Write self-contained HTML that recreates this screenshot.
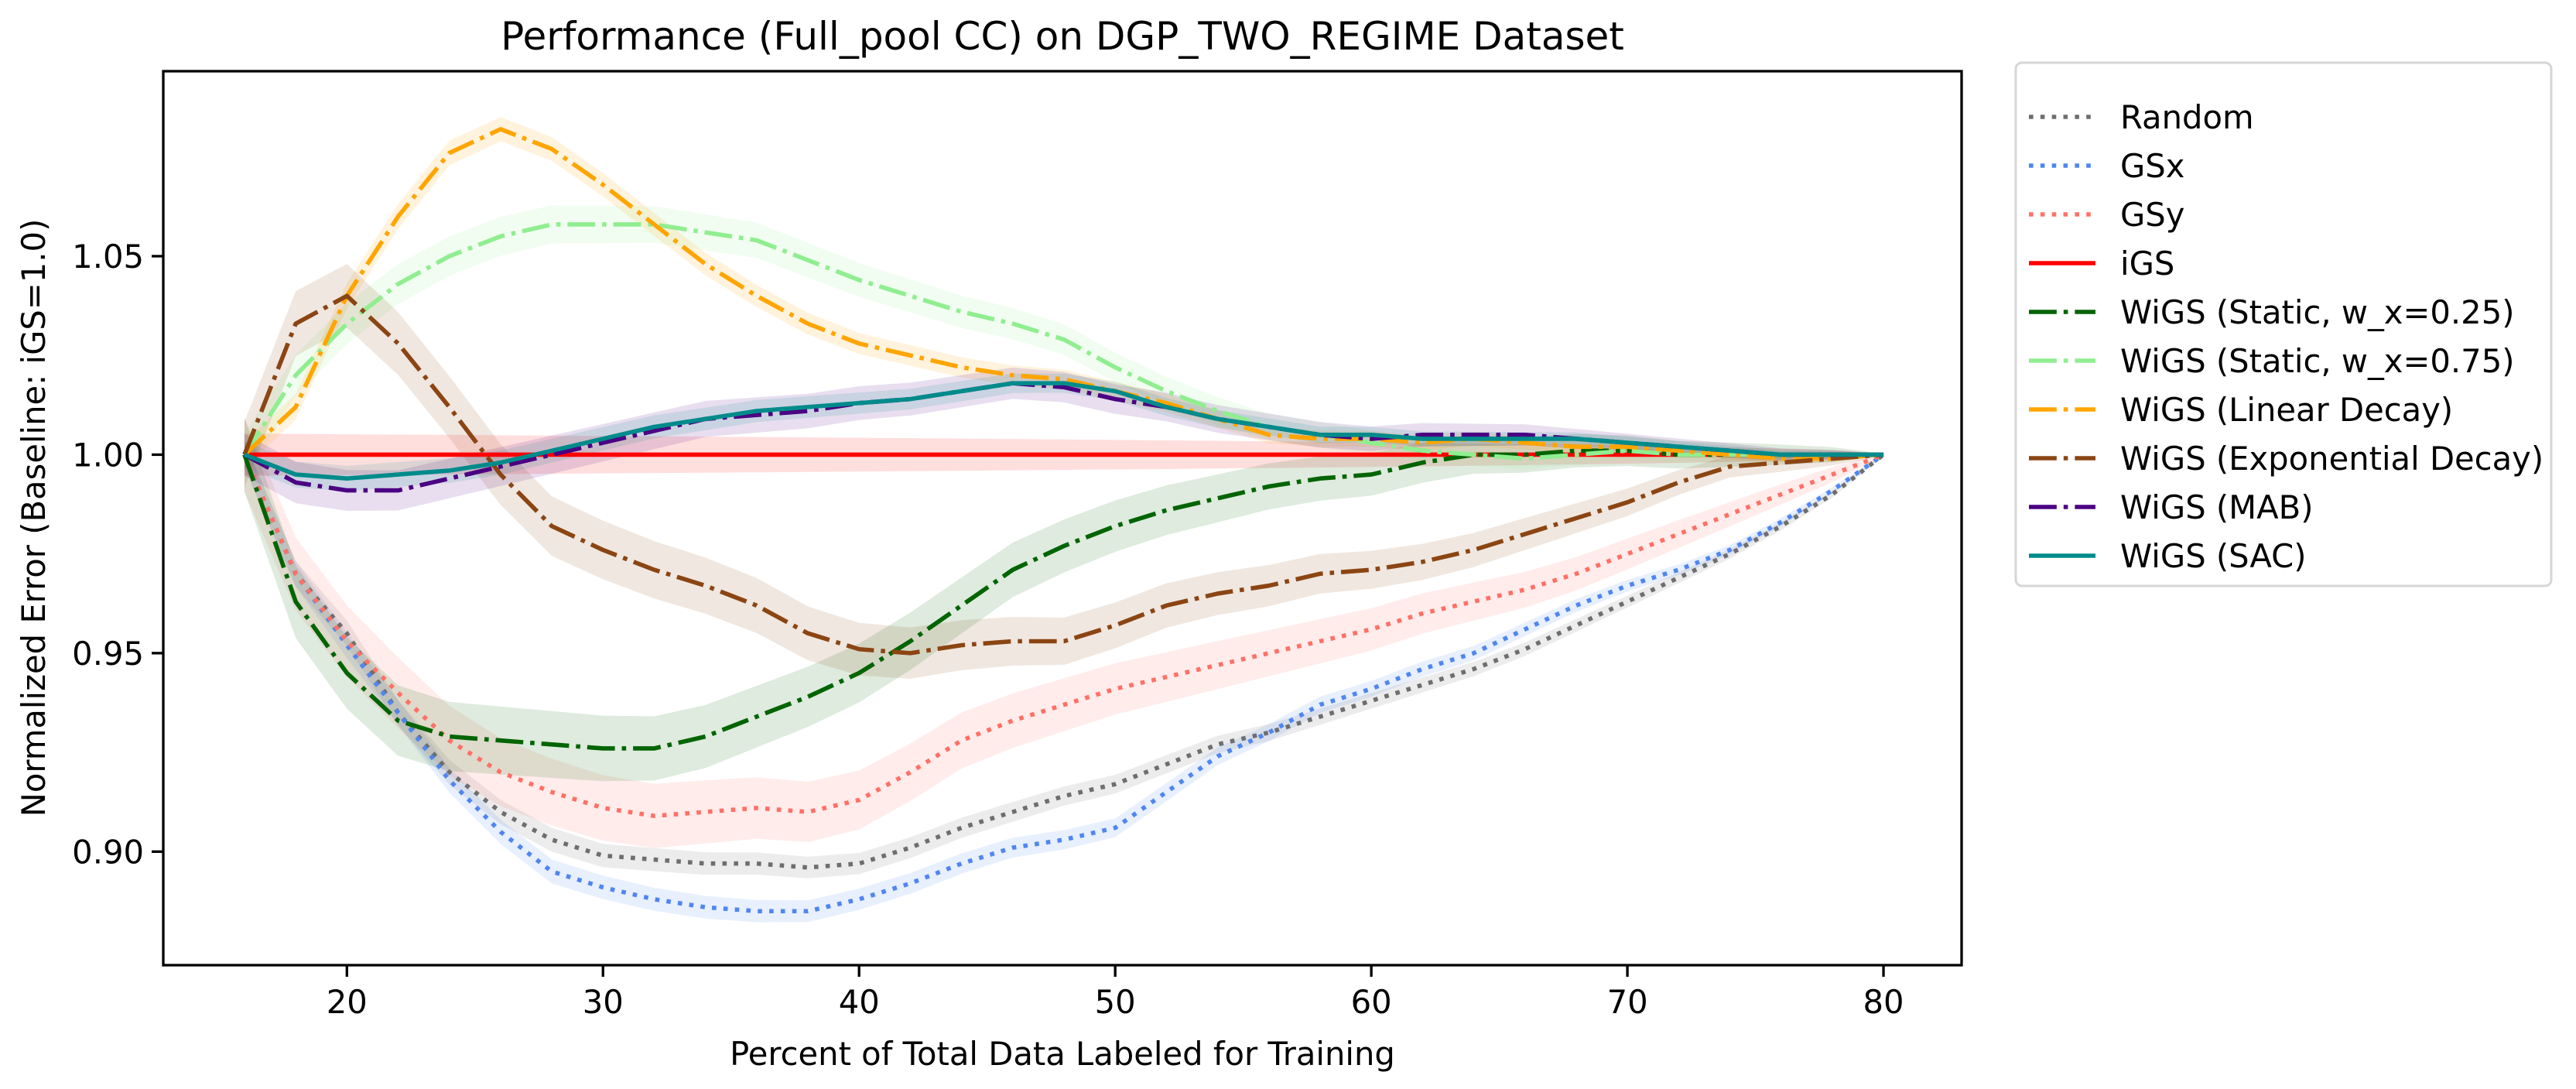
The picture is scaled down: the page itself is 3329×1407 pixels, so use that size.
<!DOCTYPE html>
<html><head><meta charset="utf-8"><style>
body{margin:0;background:#fff;}
svg{display:block;font-family:"DejaVu Sans","Liberation Sans",sans-serif;}
</style></head><body>
<svg id="chart" width="3329" height="1407" viewBox="0 0 3329 1407" xmlns="http://www.w3.org/2000/svg">
<rect width="3329" height="1407" fill="#fff"/>
<text x="1373" y="64" font-size="50" text-anchor="middle">Performance (Full_pool CC) on DGP_TWO_REGIME Dataset</text>
<g id="bands"></g><g id="lines"></g>
<rect x="211" y="92" width="2324" height="1155" fill="none" stroke="#000" stroke-width="3.3"/>
<g id="ticks"></g>
<text x="1373" y="1376" font-size="41.7" text-anchor="middle">Percent of Total Data Labeled for Training</text>
<text x="0" y="0" font-size="41.7" text-anchor="middle" transform="translate(58,669) rotate(-90)">Normalized Error (Baseline: iGS=1.0)</text>
<g id="legend"></g>
</svg>
<script>
const xs=[16,18,20,22,24,26,28,30,32,34,36,38,40,42,44,46,48,50,52,54,56,58,60,62,64,66,68,70,72,74,76,78,80];
const seriesNames=["Random","GSx","GSy","iGS","WiGS (Static, w_x=0.25)","WiGS (Static, w_x=0.75)","WiGS (Linear Decay)","WiGS (Exponential Decay)","WiGS (MAB)","WiGS (SAC)"];
const randomVals=[1,0.97,0.955,0.935,0.92,0.91,0.903,0.899,0.898,0.897,0.897,0.896,0.897,0.901,0.906,0.91,0.914,0.917,0.922,0.927,0.93,0.934,0.938,0.942,0.946,0.951,0.957,0.963,0.969,0.975,0.982,0.99,1];
const gsxVals=[1,0.97,0.952,0.935,0.918,0.905,0.895,0.891,0.888,0.886,0.885,0.885,0.888,0.892,0.897,0.901,0.903,0.906,0.915,0.924,0.93,0.937,0.941,0.946,0.95,0.956,0.962,0.967,0.971,0.976,0.983,0.991,1];
const gsyVals=[1,0.97,0.953,0.94,0.928,0.92,0.915,0.911,0.909,0.91,0.911,0.91,0.913,0.92,0.928,0.933,0.937,0.941,0.944,0.947,0.95,0.953,0.956,0.96,0.963,0.966,0.97,0.975,0.98,0.985,0.99,0.995,1];
const igsVals=xs.map(()=>1.0);
const static25Vals=[1,0.963,0.945,0.933,0.929,0.928,0.927,0.926,0.926,0.929,0.934,0.939,0.945,0.953,0.962,0.971,0.977,0.982,0.986,0.989,0.992,0.994,0.995,0.998,1.0,1.0,1.001,1.001,1.0,1.0,1.0,1.0,1];
const static75Vals=[1,1.02,1.033,1.043,1.05,1.055,1.058,1.058,1.058,1.056,1.054,1.049,1.044,1.04,1.036,1.033,1.029,1.022,1.016,1.011,1.007,1.005,1.003,1.001,1.0,0.999,1.0,1.001,1.0,1.0,1.0,1.0,1];
const linearVals=[1,1.012,1.04,1.06,1.076,1.082,1.077,1.068,1.058,1.048,1.04,1.033,1.028,1.025,1.022,1.02,1.019,1.016,1.013,1.009,1.005,1.004,1.004,1.003,1.004,1.003,1.002,1.002,1.001,1.0,0.999,0.999,1];
const expVals=[1,1.033,1.04,1.028,1.012,0.995,0.982,0.976,0.971,0.967,0.962,0.955,0.951,0.95,0.952,0.953,0.953,0.957,0.962,0.965,0.967,0.97,0.971,0.973,0.976,0.98,0.984,0.988,0.993,0.997,0.998,0.999,1];
const mabVals=[1,0.993,0.991,0.991,0.994,0.997,1.0,1.003,1.006,1.009,1.01,1.011,1.013,1.014,1.016,1.018,1.017,1.014,1.012,1.009,1.007,1.005,1.004,1.005,1.005,1.005,1.004,1.003,1.002,1.001,1.0,1.0,1];
const sacVals=[1,0.995,0.994,0.995,0.996,0.998,1.001,1.004,1.007,1.009,1.011,1.012,1.013,1.014,1.016,1.018,1.018,1.016,1.012,1.009,1.007,1.005,1.005,1.004,1.004,1.004,1.004,1.003,1.002,1.001,1.0,1.0,1];
const bandHalf=[0.003,0.003,0.009,0.005,0.009,0.005,0.003,0.008,0.005,0.003];
const xTicks=[20,30,40,50,60,70,80];
const yTicks=[0.90,0.95,1.00,1.05];
const yTickLabels=["0.90","0.95","1.00","1.05"];

const X0=211,X1=2535,Y0=92,Y1=1247,xmin=12.83,xmax=83.05,ymin=0.8714,ymax=1.0966;
const xp=v=>X0+(v-xmin)/(xmax-xmin)*(X1-X0);
const yp=v=>Y1-(v-ymin)/(ymax-ymin)*(Y1-Y0);
const NS="http://www.w3.org/2000/svg";
const mk=(t,a,p)=>{const e=document.createElementNS(NS,t);for(const k in a)e.setAttribute(k,a[k]);p.appendChild(e);return e;};
const lw=5.6, DOT=`${lw} ${lw*1.65}`, DD=`${lw*6.4} ${lw*1.6} ${lw} ${lw*1.6}`;
const vals=[randomVals,gsxVals,gsyVals,igsVals,static25Vals,static75Vals,linearVals,expVals,mabVals,sacVals];
const colors=["#6e6e6e","#4f86f0","#ff7065","#ff0000","#006400","#90ee90","#ffa500","#8b4513","#4b0082","#008b8b"];
const dashes=[DOT,DOT,DOT,"","DD","DD","DD","DD","DD",""].map(d=>d==="DD"?DD:d);
const bands=document.getElementById('bands'),lines=document.getElementById('lines');
vals.forEach((v,i)=>{
  const up=[],dn=[];
  xs.forEach((x,j)=>{const h=bandHalf[i]*Math.sqrt(Math.max(0,(80-x)/64))+0.0003;up.push(xp(x)+','+yp(v[j]+h));dn.unshift(xp(x)+','+yp(v[j]-h));});
  const b=mk('polygon',{points:up.concat(dn).join(' '),fill:colors[i],'fill-opacity':0.13},bands);
  
  
  const l=mk('polyline',{points:xs.map((x,j)=>xp(x)+','+yp(v[j])).join(' '),fill:'none',stroke:colors[i],'stroke-width':lw,'stroke-dasharray':dashes[i]||'none','stroke-linejoin':'round'},lines);
  
  
});
const tg=document.getElementById('ticks');
xTicks.forEach(t=>{
  const ln=mk('line',{x1:xp(t),x2:xp(t),y1:Y1,y2:Y1+15,stroke:'#000','stroke-width':3.3},tg);
  
  
  const tx=mk('text',{x:xp(t),y:Y1+62,'font-size':41.7,'text-anchor':'middle'},tg);tx.textContent=t;
  
  
});
yTicks.forEach((t,i)=>{
  const ln=mk('line',{x1:X0-15,x2:X0,y1:yp(t),y2:yp(t),stroke:'#000','stroke-width':3.3},tg);
  
  
  const tx=mk('text',{x:X0-25,y:yp(t)+15,'font-size':41.7,'text-anchor':'end'},tg);tx.textContent=yTickLabels[i];
  
  
});
const lg=document.getElementById('legend');
const box=mk('rect',{x:2605,y:81,width:692,height:676,rx:8,fill:'#fff',stroke:'#d6d6d6','stroke-width':3},lg);


seriesNames.forEach((n,i)=>{
  const y=151+i*63;
  const l=mk('line',{x1:2622,x2:2708,y1:y,y2:y,stroke:colors[i],'stroke-width':lw,'stroke-dasharray':dashes[i]||'none'},lg);
  
  
  const t=mk('text',{x:2740,y:y+15,'font-size':41.7},lg);t.textContent=n;
  
  
});
</script>
</body></html>
